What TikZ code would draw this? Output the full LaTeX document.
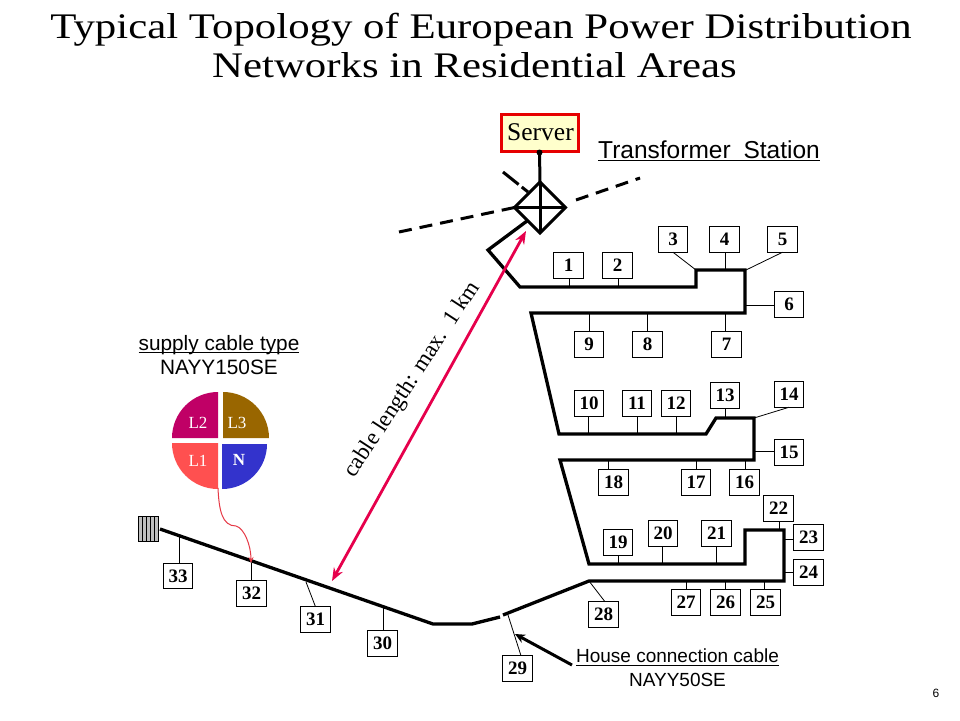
\documentclass[tikz,border=0pt]{standalone}
\usepackage{fontspec}
\setmainfont{Liberation Serif}
\setsansfont{Liberation Sans}
\newfontfamily\titlefont[FakeStretch=1.19]{Liberation Serif}
\usetikzlibrary{shapes.geometric,arrows.meta}
\definecolor{arrowred}{HTML}{E6004C}
\definecolor{curvered}{HTML}{E63946}
\definecolor{serverred}{HTML}{E60000}
\definecolor{serverfill}{HTML}{FFFFCC}
\definecolor{cLtwo}{HTML}{C00066}
\definecolor{cLthree}{HTML}{996600}
\definecolor{cLone}{HTML}{FF5050}
\definecolor{cN}{HTML}{3333CC}
\newsavebox{\ulbox}
\newcommand{\ulintext}[2]{\sbox{\ulbox}{#2}\rlap{\rule[#1]{\wd\ulbox}{1.1pt}}\usebox{\ulbox}}
\tikzset{
  hbox/.style={draw=black,line width=0.9pt,fill=white,minimum width=29.5pt,minimum height=25.5pt,inner sep=0pt,outer sep=0pt,font=\fontsize{19}{20}\selectfont\bfseries},
  cable/.style={line width=3.3pt,line join=miter},
  stub/.style={line width=0.8pt},
  tdash/.style={line width=3pt,dash pattern=on 13pt off 8pt},
  sanslab/.style={font=\sffamily\fontsize{19}{24}\selectfont,inner sep=0pt,align=center},
  supplylab/.style={font=\sffamily\fontsize{20.8}{24}\selectfont,inner sep=0pt,align=center},
  coretext/.style={text=white,font=\fontsize{17}{18}\selectfont,inner sep=0pt},
}
\begin{document}
\begin{tikzpicture}[x=1pt,y=-1pt]
\useasboundingbox (0,0) rectangle (960,720);
\fill[white] (0,0) rectangle (960,720);
% title
\node[inner sep=0pt,align=center,font=\titlefont\fontsize{36}{38.5}\selectfont] (title) at (481,45.5) {Typical Topology of European Power Distribution\\\hspace*{-13pt}Networks in Residential Areas};
% server
\node[draw=serverred,fill=serverfill,line width=3pt,minimum width=77pt,minimum height=37pt,inner sep=0pt,font=\fontsize{25.5}{26}\selectfont] (server) at (539.5,132.5) {\raisebox{-2pt}{\hspace{2pt}Server}};
\node[shape=diamond,draw=black,line width=3pt,minimum width=51pt,minimum height=51pt,inner sep=0pt,outer sep=0pt] (trafo) at (540,207.5) {};
\draw[line width=3pt] (trafo.north) -- (trafo.south);
\draw[line width=3pt] (trafo.west) -- (trafo.east);
\draw[line width=3pt] (server.south) -- (trafo.north);
\fill (server.south) circle (3pt);
\node[inner sep=0pt,font=\sffamily\fontsize{24.5}{24}\selectfont] (tslabel) at (709,151) {\ulintext{-3.2pt}{Transformer\hspace{6pt} Station}};
% boundary dashes
\coordinate (dl) at (399,232);
\coordinate (dr) at (640,178);
\coordinate (du) at (503,172);
\coordinate (dre) at (576,200);
\coordinate (due) at (528,192);
\draw[tdash] (dl) -- (trafo.west);
\draw[tdash] (dre) -- (dr);
\draw[line width=3pt,dash pattern=on 20pt off 4pt] (du) -- (due);
% cable
\coordinate (f0) at (527,221);
\draw[cable] (f0) -- (488,250) -- (520,287) -- (696,287) -- (696,270) -- (745,270) -- (745,313) -- (531,313) -- (559,434) -- (706,434) -- (716,418) -- (754,418) -- (754,460) -- (560,460) -- (589,564) -- (745,564) -- (745,530) -- (784,530) -- (784,581) -- (589,581) -- (503,615);
\draw[cable] (500,617) -- (472,624) -- (433,624) -- (160,529);
% boxes
\foreach \n/\x/\y in {1/568.5/265.5,2/617.5/265.5,3/673/239.5,4/724.5/239.5,5/782.5/239.5,6/789/304.5,7/726.5/344.5,8/647.5/344.5,9/589/344.5,
10/589/403.5,11/637/403.5,12/676/403.5,13/725/395.5,14/789/394.5,15/789/452.5,16/744.5/482.5,17/696/482.5,18/613.5/482.5,
19/618/542.5,20/663/533.5,21/716.5/533.5,22/778.5/508.5,23/808.5/537.5,24/808.5/572.5,25/765.5/602.5,26/725.5/602.5,27/686/602.5,28/603.5/614.5,
29/517.5/668.5,30/382.5/643.5,31/315.5/619.5,32/251.5/593.5,33/178/576}
  \node[hbox] (b\n) at (\x,\y) {\n};
% stubs: boxes above the cable
\foreach \n/\x/\y in {1/569/287,2/618/287,4/725/270,10/588/434,11/637/434,12/676/434,13/725/418,19/618/564,20/662/564,21/716/564,22/779/530}
  {\coordinate (t\n) at (\x,\y); \draw[stub] (t\n |- b\n.south) -- (t\n);}
% stubs: boxes below the cable
\foreach \n/\x/\y in {7/725/313,8/647/313,9/589/313,16/745/460,17/696/460,18/608/460,25/764/581,26/725/581,27/686/581,30/383/608,32/251/563,33/179/537}
  {\coordinate (t\n) at (\x,\y); \draw[stub] (t\n |- b\n.north) -- (t\n);}
% stubs: boxes to the right of the cable
\foreach \n/\x/\y in {6/745/305,15/754/451,23/784/539,24/784/572}
  {\coordinate (t\n) at (\x,\y); \draw[stub] (t\n -| b\n.west) -- (t\n);}
% slanted stubs
\coordinate (t3) at (696,270);
\coordinate (t5) at (746,270);
\coordinate (t14) at (754,418);
\coordinate (t28) at (589,581);
\coordinate (t29) at (508,615);
\coordinate (t31) at (306,582);
\draw[stub] (b3.south) -- (t3);
\draw[stub] (b5.south) -- (t5);
\draw[stub] (b14.south) -- (t14);
\draw[stub] ([xshift=1.5pt]b28.north) -- (t28);
\draw[stub] ([xshift=3.5pt]b29.north) -- (t29);
\draw[stub] (b31.north) -- (t31);
% end terminal
\node[draw=black,fill=black!25,line width=0.8pt,minimum width=20pt,minimum height=25pt,inner sep=0pt,outer sep=0pt] (term) at (148,528.5) {};
\foreach \k in {1,2,3,4}
  \draw[line width=0.6pt] ([xshift=\k*4pt]term.north west) -- ([xshift=\k*4pt]term.south west);
% red arrow
\coordinate (ra) at (526,231);
\coordinate (rb) at (332,581);
\draw[arrowred,line width=2.8pt,{Stealth[length=13pt,width=10pt]}-{Stealth[length=13pt,width=10pt]}] (rb) -- (ra);
\node[rotate=56.8,inner sep=0pt,font=\fontsize{23}{24}\selectfont] (cablen) at (412.5,380) {cable length: max.\ \ 1 km};
% supply cable label and cross section
\node[supplylab] (supply) at (219,355) {\ulintext{-2.8pt}{supply cable type}\\NAYY150SE};
\fill[cLtwo] (218,438) -- (172,438) arc[start angle=180,end angle=90,radius=46pt] -- cycle;
\fill[cLthree] (223,438) -- (223,392) arc[start angle=90,end angle=0,radius=46pt] -- cycle;
\fill[cLone] (218,443) -- (218,489) arc[start angle=-90,end angle=-180,radius=46pt] -- cycle;
\fill[cN] (222,444) -- (267,444) arc[start angle=0,end angle=-90,radius=45pt] -- cycle;
\node[coretext] (l2) at (198,423) {L2};
\node[coretext] (l3) at (237,423) {L3};
\node[coretext] (l1) at (198,461) {L1};
\node[coretext,font=\fontsize{17}{18}\selectfont\bfseries] (ln) at (239,460) {N};
\coordinate (cs) at (218,488);
\draw[curvered,line width=1pt,-{Stealth[length=6pt,width=5pt]}] (cs) .. controls (219,510) and (222,526) .. (236,526) .. controls (244,528) and (251,545) .. (t32);
% house connection
\node[sanslab] (house) at (677.5,668) {\ulintext{-2.8pt}{House connection cable}\\NAYY50SE};
\coordinate (ha) at (572,665);
\coordinate (hb) at (515,634);
\draw[line width=3pt,-{Stealth[length=10pt,width=9pt]}] (ha) -- (hb);
\node[inner sep=0pt,font=\sffamily\fontsize{12}{12}\selectfont] (page) at (936,693) {6};
\end{tikzpicture}
\end{document}
